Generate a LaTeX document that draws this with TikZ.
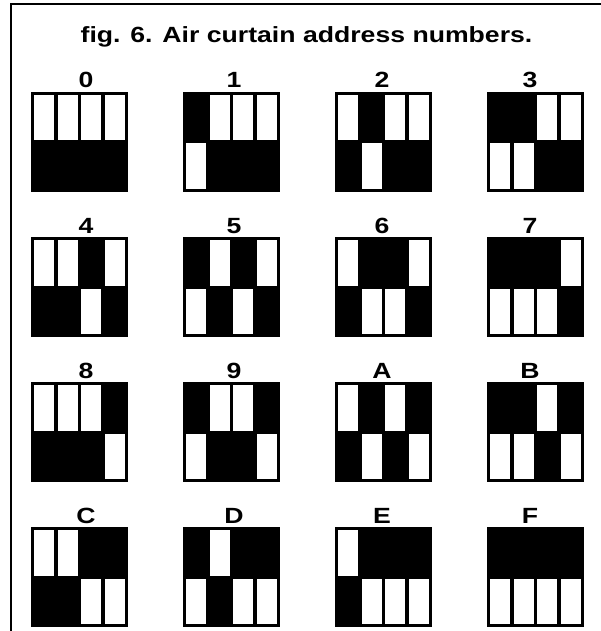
\documentclass[tikz,border=0pt]{standalone}
\usepackage{fontspec}
\setmainfont{Liberation Sans}
\usetikzlibrary{positioning}

\begin{document}
\begin{tikzpicture}[
	x=1pt, y=-1pt,
	title/.style={font=\fontsize{22}{26}\selectfont\bfseries, xscale=1.21, inner sep=0pt, anchor=base},
	numlabel/.style={font=\fontsize{22}{26}\selectfont\bfseries, xscale=1.21, inner sep=0pt, anchor=base},
	swblock/.style={fill=black},
	swcell/.style={fill=white}
]
\useasboundingbox (0,0) rectangle (600,631);
% frame, open to the right and at the bottom
\draw[line width=2pt] (11,640) -- (11,4) -- (610,4);
\node[title] (title) at (306.5,42.5) {fig. 6. Air curtain address numbers.};
% one DIP switch block per address, bit 0 on the left
\foreach \lbl [count=\k from 0] in {0,1,2,3,4,5,6,7,8,9,A,B,C,D,E,F} {
	\pgfmathtruncatemacro{\col}{mod(\k,4)}
	\pgfmathtruncatemacro{\row}{floor(\k/4)}
	\pgfmathsetmacro{\bx}{31+152*\col}
	\pgfmathsetmacro{\by}{92+145*\row}
	\node[numlabel] (num-\lbl) at (86+148*\col,88+145*\row) {\lbl};
	\fill[swblock] (\bx,\by) rectangle ++(97,100);
	\foreach \j in {0,...,3} {
		\pgfmathtruncatemacro{\bit}{mod(floor(\k/2^\j),2)}
		\pgfmathsetmacro{\cx}{\bx+3+23.67*\j}
		\ifnum\bit=1
			\fill[swcell] (\cx,\by+51.5) rectangle ++(20,45.5);
		\else
			\fill[swcell] (\cx,\by+3) rectangle ++(20,45.5);
		\fi
	}
}
\end{tikzpicture}
\end{document}
